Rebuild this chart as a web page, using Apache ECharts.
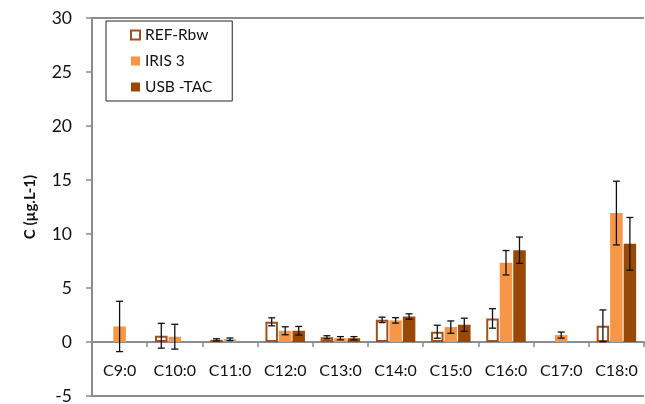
<!DOCTYPE html>
<html>
<head>
<meta charset="utf-8">
<script src="https://cdn.jsdelivr.net/npm/echarts@6/dist/echarts.min.js"></script>
<style>
  html, body { margin: 0; padding: 0; background: #fff; }
  #chart { width: 645px; height: 404px; }
</style>
</head>
<body>
<div id="chart"></div>
<script>
const categories = ['C9:0', 'C10:0', 'C11:0', 'C12:0', 'C13:0', 'C14:0', 'C15:0', 'C16:0', 'C17:0', 'C18:0'];

// mean values (µg.L-1), null where the sample has no bar
const refRbw = [null, 0.58, 0.2, 1.87, 0.43, 2.05, 0.95, 2.18, null, 1.5];
const iris3 = [1.44, 0.49, 0.25, 1.04, 0.35, 2.0, 1.38, 7.34, 0.64, 11.94];
const usbTac = [null, null, null, 1.04, 0.35, 2.36, 1.6, 8.5, null, 9.09];

// standard deviations for the error bars
const refRbwErr = [null, 1.15, 0.1, 0.37, 0.15, 0.25, 0.6, 0.9, null, 1.47];
const iris3Err = [2.33, 1.15, 0.12, 0.37, 0.15, 0.25, 0.57, 1.13, 0.28, 2.95];
const usbTacErr = [null, null, null, 0.4, 0.15, 0.25, 0.6, 1.22, null, 2.44];

const yTicks = [-5, 0, 5, 10, 15, 20, 25, 30];

const REF_COLOR = '#A0501C';
const IRIS_COLOR = '#F79646';
const USB_COLOR = '#984807';
const AXIS_GREY = '#8c8c8c';
const FONT = 'Lato';
const BAR_W = 12.5;
const BAR_STEP = 13.5; // bar width + small gap

const GRID_TOP = 18;
const GRID_BOTTOM = 8;
const CHART_H = 404;

const chart = echarts.init(document.getElementById('chart'));

// pixel distance from the bottom of the grid up to y = 0, so the category axis sits on zero
const yMin = yTicks[0];
const yMax = yTicks[yTicks.length - 1];
const zeroLift = (CHART_H - GRID_TOP - GRID_BOTTOM) * (0 - yMin) / (yMax - yMin);

// [category index, low, high] for the whiskers
const errData = (vals, errs) => vals
  .map((v, i) => (v == null || errs[i] == null) ? null : [i, v - errs[i], v + errs[i]])
  .filter(d => d);

const errSeries = (name, vals, errs, offset) => ({
  type: 'custom',
  name: name + ' err',
  z: 5,
  silent: true,
  data: errData(vals, errs),
  renderItem: (params, api) => {
    const lo = api.coord([api.value(0), api.value(1)]);
    const hi = api.coord([api.value(0), api.value(2)]);
    const x = lo[0] + offset;
    const cap = 3.5;
    const style = { stroke: '#111', lineWidth: 1.3 };
    return {
      type: 'group',
      children: [
        { type: 'line', shape: { x1: x, y1: hi[1], x2: x, y2: lo[1] }, style },
        { type: 'line', shape: { x1: x - cap, y1: hi[1], x2: x + cap, y2: hi[1] }, style },
        { type: 'line', shape: { x1: x - cap, y1: lo[1], x2: x + cap, y2: lo[1] }, style }
      ]
    };
  }
});

const option = {
  animation: false,
  textStyle: { fontFamily: FONT },
  grid: { left: 92, right: 1, top: GRID_TOP, bottom: GRID_BOTTOM, outerBoundsMode: 'none' },
  legend: {
    orient: 'vertical',
    left: 106,
    top: 21,
    padding: [6, 20, 6, 24],
    itemGap: 10,
    itemWidth: 9,
    itemHeight: 9,
    borderColor: '#222',
    borderWidth: 1,
    textStyle: { fontFamily: FONT, fontSize: 15.5, lineHeight: 15, color: '#111' },
    data: [
      { name: 'REF-Rbw', icon: 'rect', itemStyle: { color: '#fff', borderColor: REF_COLOR, borderWidth: 2 } },
      { name: 'IRIS 3', icon: 'rect' },
      { name: 'USB -TAC', icon: 'rect' }
    ]
  },
  xAxis: {
    type: 'category',
    data: categories,
    position: 'bottom',
    offset: -zeroLift,
    axisLine: { onZero: false, lineStyle: { color: AXIS_GREY, width: 2 } },
    axisTick: { show: true, length: 5, lineStyle: { color: AXIS_GREY, width: 1.5 } },
    axisLabel: { color: '#111', fontSize: 16, fontFamily: FONT, margin: 21, interval: 0 }
  },
  yAxis: [
    {
      type: 'value',
      min: yMin,
      max: yMax,
      interval: 5,
      name: 'C (µg.L-1)',
      nameLocation: 'middle',
      nameGap: 54,
      nameTextStyle: { fontSize: 15, fontWeight: 'bold', color: '#111', fontFamily: FONT },
      axisLine: { show: true, lineStyle: { color: AXIS_GREY, width: 2 } },
      axisTick: { show: true, length: 6, lineStyle: { color: AXIS_GREY, width: 1.5 } },
      axisLabel: { color: '#111', fontSize: 17.5, fontFamily: FONT, margin: 20 },
      splitLine: { show: false }
    },
    {
      // only used for the frame lines at the top (30) and bottom (-5)
      type: 'value',
      min: yMin,
      max: yMax,
      interval: yMax - yMin,
      position: 'left',
      axisLine: { show: false },
      axisTick: { show: false },
      axisLabel: { show: false },
      splitLine: { show: true, lineStyle: { color: AXIS_GREY, width: 2 } }
    }
  ],
  series: [
    {
      name: 'REF-Rbw',
      type: 'bar',
      data: refRbw,
      barWidth: BAR_W,
      barGap: '8%',
      itemStyle: { color: '#fff', borderColor: REF_COLOR, borderWidth: 2 }
    },
    {
      name: 'IRIS 3',
      type: 'bar',
      data: iris3,
      barWidth: BAR_W,
      barGap: '8%',
      itemStyle: { color: IRIS_COLOR }
    },
    {
      name: 'USB -TAC',
      type: 'bar',
      data: usbTac,
      barWidth: BAR_W,
      barGap: '8%',
      itemStyle: { color: USB_COLOR }
    },
    errSeries('REF-Rbw', refRbw, refRbwErr, -BAR_STEP),
    errSeries('IRIS 3', iris3, iris3Err, 0),
    errSeries('USB -TAC', usbTac, usbTacErr, BAR_STEP)
  ]
};

chart.setOption(option);
</script>
</body>
</html>
